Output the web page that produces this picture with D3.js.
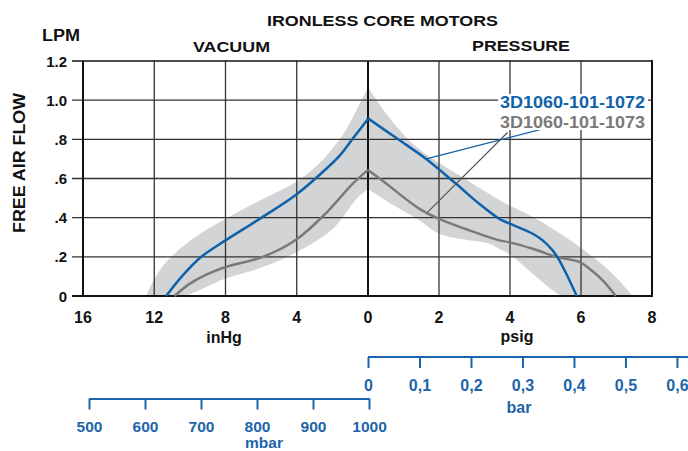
<!DOCTYPE html>
<html>
<head>
<meta charset="utf-8">
<script src="https://cdn.jsdelivr.net/npm/d3@7"></script>
<style>
body { margin: 0; background: #fff; }
text { font-family: "Liberation Sans", Arial, sans-serif; font-weight: bold; }
</style>
</head>
<body>
<svg width="688" height="451"></svg>
<script>
// ticks
const vacTicks = [16, 12, 8, 4, 0];
const psiTicks = [0, 2, 4, 6, 8];
const flowTicks = [0, 0.2, 0.4, 0.6, 0.8, 1.0, 1.2];
const flowLabels = ["0", ".2", ".4", ".6", ".8", "1.0", "1.2"];
const barTicks = [0, 0.1, 0.2, 0.3, 0.4, 0.5, 0.6];
const barLabels = ["0", "0,1", "0,2", "0,3", "0,4", "0,5", "0,6"];
const mbarTicks = [500, 600, 700, 800, 900, 1000];

// series: [inHg, LPM] on the vacuum side, [psig, LPM] on the pressure side
const blueVac = [[0, 0.904], [0.84, 0.805], [1.59, 0.717], [2.34, 0.65], [4.0, 0.52], [6.08, 0.394], [8.0, 0.284], [9.36, 0.20], [10.4, 0.105], [11.33, 0]];
const bluePsi = [[0, 0.907], [0.89, 0.795], [1.64, 0.70], [2.48, 0.573], [3.14, 0.47], [3.7, 0.394], [3.96, 0.372], [4.64, 0.318], [4.92, 0.284], [5.2, 0.233], [5.39, 0.182], [5.63, 0.097], [5.88, 0]];
const grayVac = [[0, 0.644], [0.84, 0.575], [1.59, 0.50], [2.34, 0.425], [4.0, 0.29], [5.9, 0.20], [8.0, 0.148], [9.08, 0.109], [10.0, 0.063], [10.86, 0]];
const grayPsi = [[0, 0.644], [0.52, 0.573], [1.45, 0.445], [2.0, 0.394], [2.86, 0.335], [3.7, 0.284], [3.96, 0.275], [4.64, 0.241], [5.33, 0.199], [5.97, 0.173], [6.23, 0.14], [6.61, 0.08], [6.98, 0]];

// tolerance band
const bandVacUpper = [[0, 1.065], [0.5, 0.975], [1.1, 0.87], [1.59, 0.80], [2.7, 0.68], [4.0, 0.585], [6.08, 0.487], [8.0, 0.394], [9.83, 0.292], [11.33, 0.173], [12.08, 0.071], [12.45, 0]];
const bandVacLower = [[0, 0.547], [0.5, 0.51], [0.84, 0.475], [1.97, 0.343], [4.0, 0.224], [5.9, 0.148], [8.0, 0.089], [9.08, 0.046], [10.2, 0]];
const bandPsiUpper = [[0, 1.065], [0.52, 0.93], [1.08, 0.81], [1.45, 0.75], [2.0, 0.68], [2.58, 0.615], [3.7, 0.49], [3.96, 0.465], [4.64, 0.405], [5.2, 0.343], [5.97, 0.25], [6.51, 0.173], [6.98, 0.097], [7.45, 0]];
const bandPsiLower = [[0, 0.547], [0.52, 0.487], [0.89, 0.445], [1.45, 0.386], [2.0, 0.318], [2.58, 0.292], [3.4, 0.268], [3.7, 0.24], [3.96, 0.216], [4.64, 0.114], [5.2, 0.029], [5.45, 0]];

const models = ["3D1060-101-1072", "3D1060-101-1073"];

const BLUE = "#0e62aa", GRAY = "#7a7a7a", BAND = "#d3d4d6", AXBLUE = "#1d65a8";

const svg = d3.select("svg");

const xVac = d3.scaleLinear().domain([16, 0]).range([83, 368]);
const xPsi = d3.scaleLinear().domain([0, 8]).range([368, 652]);
const y = d3.scaleLinear().domain([0, 1.2]).range([296, 61]);
const xBar = d3.scaleLinear().domain([0, 0.6]).range([xPsi(0), xPsi(0.6 * 14.5038)]);
const xMbar = d3.scaleLinear().domain([500, 1000]).range([89, 369]);

// band
function seg(pts, xs) {
    return d3.line().x(d => xs(d[0])).y(d => y(d[1])).curve(d3.curveCatmullRom)(pts);
}
const bandPath =
    seg(bandVacUpper.slice().reverse(), xVac) +
    seg(bandPsiUpper, xPsi).replace(/^M/, "L") +
    seg(bandPsiLower.slice().reverse(), xPsi).replace(/^M/, "L") +
    seg(bandVacLower, xVac).replace(/^M/, "L") + "Z";
svg.append("path").attr("d", bandPath).attr("fill", BAND);

// grid
const grid = svg.append("g").attr("stroke", "#333").attr("stroke-width", 1.3);
grid.selectAll(".h").data(flowTicks.slice(1, -1)).enter().append("line")
    .attr("x1", 72).attr("x2", 652)
    .attr("y1", d => y(d)).attr("y2", d => y(d));
grid.selectAll(".v").data(vacTicks.slice(1, -1)).enter().append("line")
    .attr("x1", d => xVac(d)).attr("x2", d => xVac(d))
    .attr("y1", 61).attr("y2", 296);
grid.selectAll(".p").data(psiTicks.slice(1, -1)).enter().append("line")
    .attr("x1", d => xPsi(d)).attr("x2", d => xPsi(d))
    .attr("y1", 61).attr("y2", 296);

// frame
const frame = svg.append("g").attr("stroke", "#111").attr("fill", "none");
frame.append("line").attr("x1", 72).attr("x2", 653).attr("y1", y(1.2)).attr("y2", y(1.2)).attr("stroke-width", 1.6);
frame.append("line").attr("x1", 72).attr("x2", 653).attr("y1", y(0)).attr("y2", y(0)).attr("stroke-width", 2);
frame.append("line").attr("x1", xVac(16)).attr("x2", xVac(16)).attr("y1", 61).attr("y2", 297).attr("stroke-width", 2);
frame.append("line").attr("x1", xPsi(8)).attr("x2", xPsi(8)).attr("y1", 60).attr("y2", 297).attr("stroke-width", 2);
frame.append("line").attr("x1", xPsi(0)).attr("x2", xPsi(0)).attr("y1", 61).attr("y2", 296).attr("stroke-width", 2);

// curves
function curve(pts, xs, color) {
    svg.append("path")
        .attr("d", d3.line().x(d => xs(d[0])).y(d => y(d[1])).curve(d3.curveCatmullRom)(pts))
        .attr("fill", "none").attr("stroke", color).attr("stroke-width", 2.5)
        .attr("stroke-linejoin", "round");
}
curve(grayVac, xVac, GRAY);
curve(grayPsi, xPsi, GRAY);
curve(blueVac, xVac, BLUE);
curve(bluePsi, xPsi, BLUE);

// legend + leaders
svg.append("line").attr("x1", xPsi(7.17)).attr("y1", y(0.958)).attr("x2", xPsi(1.64)).attr("y2", y(0.70))
    .attr("stroke", BLUE).attr("stroke-width", 1.2);
svg.append("line").attr("x1", xPsi(3.93)).attr("y1", y(0.835)).attr("x2", xPsi(1.68)).attr("y2", y(0.428))
    .attr("stroke", "#555").attr("stroke-width", 1.2);
svg.append("rect").attr("x", 498).attr("y", 94).attr("width", 150).attr("height", 36).attr("fill", "#fff");
svg.append("text").attr("x", 645).attr("y", 108).attr("text-anchor", "end")
    .attr("font-size", 17).attr("textLength", 145).attr("lengthAdjust", "spacingAndGlyphs")
    .attr("fill", BLUE).text(models[0]);
svg.append("text").attr("x", 645).attr("y", 127.5).attr("text-anchor", "end")
    .attr("font-size", 17).attr("textLength", 145).attr("lengthAdjust", "spacingAndGlyphs")
    .attr("fill", GRAY).text(models[1]);

// y labels
svg.selectAll(".yl").data(flowTicks).enter().append("text")
    .attr("x", 67).attr("y", d => y(d) + 5.5).attr("text-anchor", "end")
    .attr("font-size", 15).attr("fill", "#111")
    .text((d, i) => flowLabels[i]);

// x labels
svg.selectAll(".xv").data(vacTicks).enter().append("text")
    .attr("x", d => xVac(d)).attr("y", 323).attr("text-anchor", "middle")
    .attr("font-size", 16).attr("fill", "#111").text(d => d);
svg.selectAll(".xp").data(psiTicks.slice(1)).enter().append("text")
    .attr("x", d => xPsi(d)).attr("y", 323).attr("text-anchor", "middle")
    .attr("font-size", 16).attr("fill", "#111").text(d => d);

// titles
function label(txt, x, yy, size, len, color, anchor) {
    const t = svg.append("text").attr("x", x).attr("y", yy)
        .attr("font-size", size).attr("fill", color || "#111")
        .attr("text-anchor", anchor || "start").text(txt);
    if (len) t.attr("textLength", len).attr("lengthAdjust", "spacingAndGlyphs");
    return t;
}
label("IRONLESS CORE MOTORS", 267, 26, 15.5, 231);
label("LPM", 42, 41, 16, 38);
label("VACUUM", 193, 52, 15.5, 77);
label("PRESSURE", 472, 51, 15.5, 98);
label("inHg", 224, 343, 16, null, null, "middle");
label("psig", 517, 342, 16, null, null, "middle");
svg.append("text").attr("transform", "translate(25,163) rotate(-90)")
    .attr("text-anchor", "middle").attr("font-size", 16).attr("fill", "#111")
    .attr("textLength", 140).attr("lengthAdjust", "spacingAndGlyphs")
    .text("FREE AIR FLOW");

// bar axis
const barAxis = svg.append("g").attr("transform", "translate(0,357)")
    .call(d3.axisBottom(xBar).tickValues(barTicks).tickSize(11).tickSizeOuter(0)
        .tickFormat((d, i) => barLabels[i]));
barAxis.select(".domain").attr("d", "M" + xBar(0) + ",0H690");
barAxis.selectAll("line, path").attr("stroke", AXBLUE).attr("stroke-width", 2);
barAxis.selectAll("text").attr("y", 34).attr("dy", null)
    .attr("font-size", 16).attr("fill", AXBLUE)
    .attr("font-family", '"Liberation Sans", Arial, sans-serif').attr("font-weight", "bold");
label("bar", 519, 413, 16, null, AXBLUE, "middle");

// mbar axis
const mbarAxis = svg.append("g").attr("transform", "translate(0,398.5)")
    .call(d3.axisBottom(xMbar).tickValues(mbarTicks).tickSize(11).tickSizeOuter(0)
        .tickFormat(d3.format("d")));
mbarAxis.selectAll("line, path").attr("stroke", AXBLUE).attr("stroke-width", 2);
mbarAxis.selectAll("text").attr("y", 33).attr("dy", null)
    .attr("font-size", 15.5).attr("fill", AXBLUE)
    .attr("font-family", '"Liberation Sans", Arial, sans-serif').attr("font-weight", "bold");
label("mbar", 264, 448, 15.5, null, AXBLUE, "middle");
</script>
</body>
</html>
